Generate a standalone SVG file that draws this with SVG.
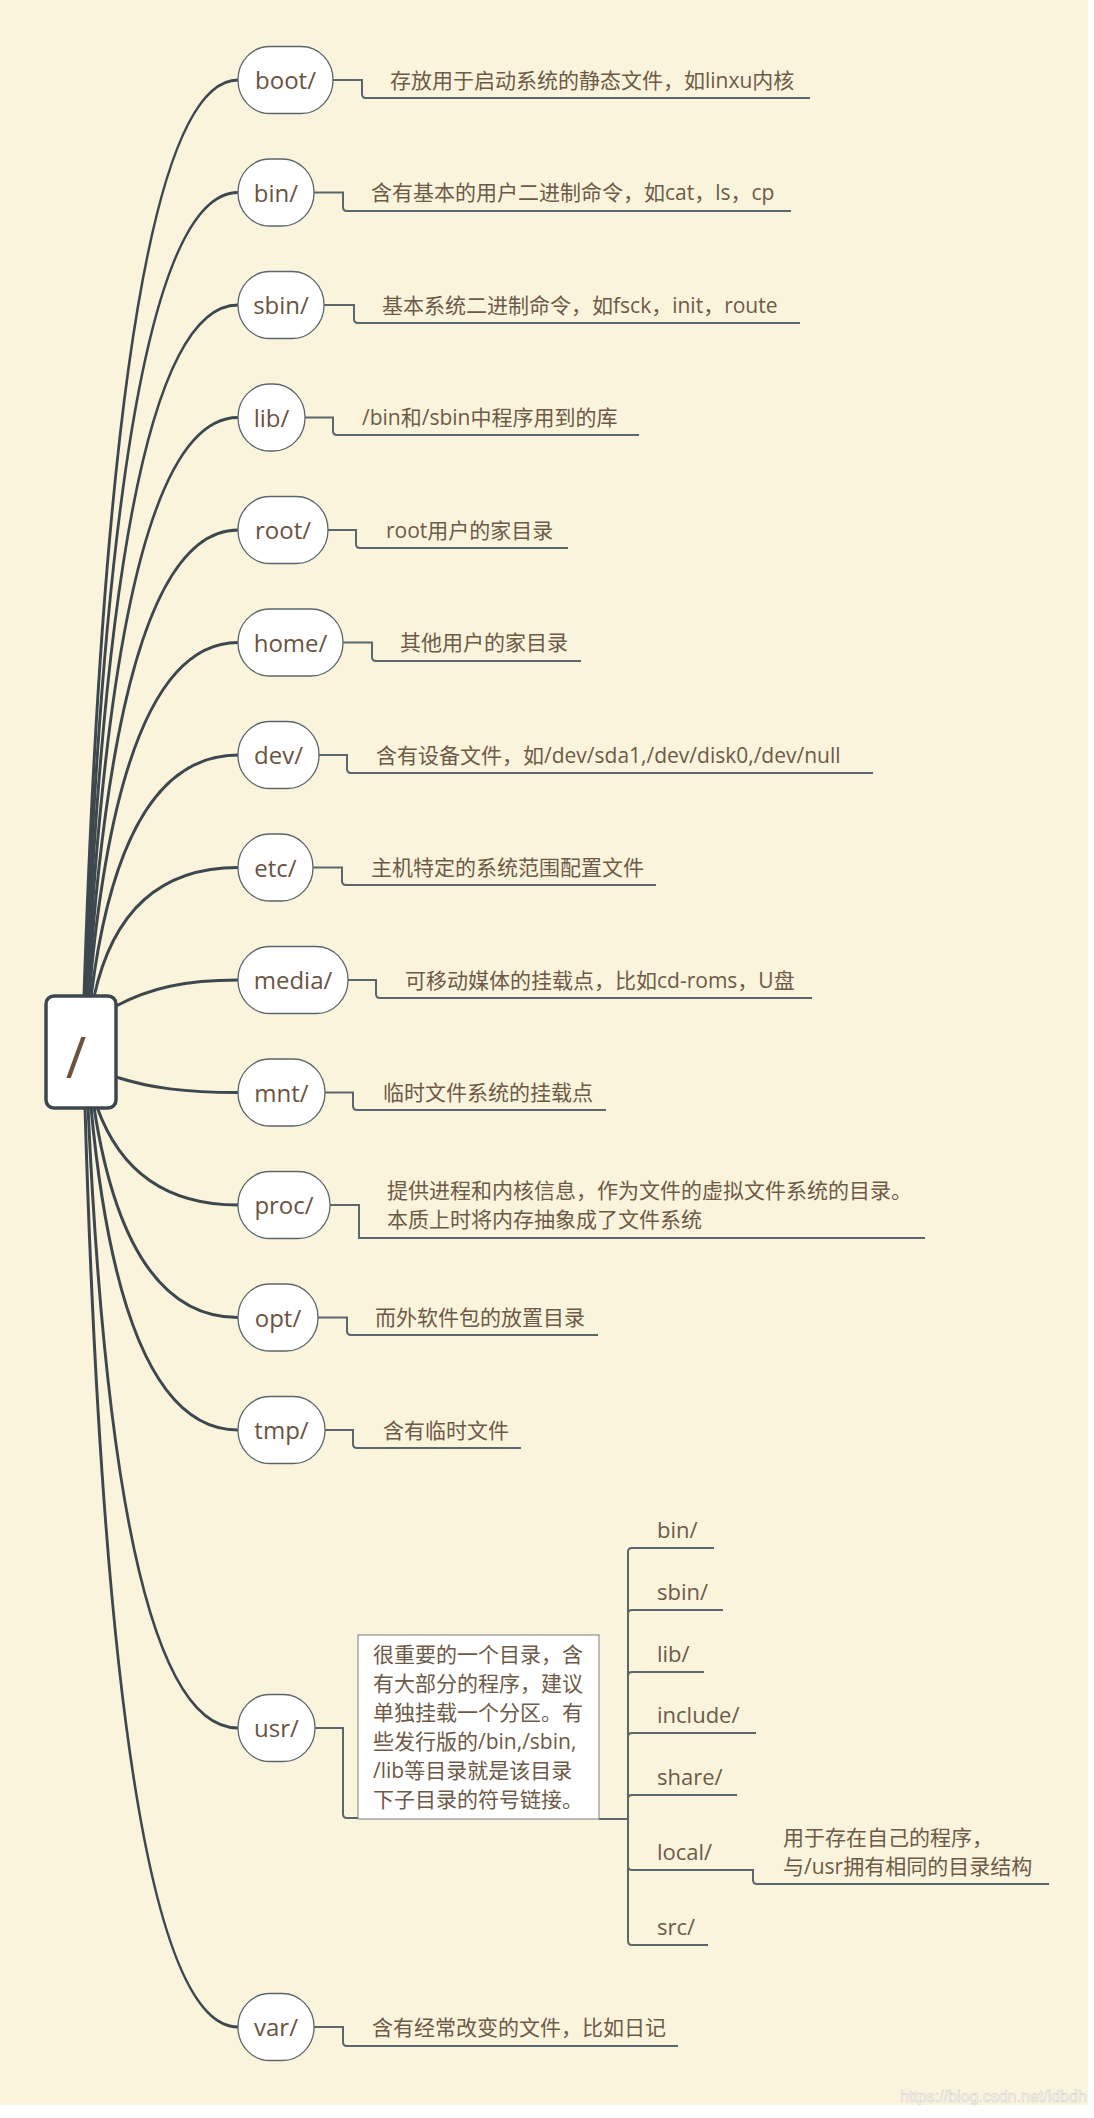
<svg xmlns="http://www.w3.org/2000/svg" width="1094" height="2118" viewBox="0 0 1094 2118">
<style>
.bg{fill:#fbf4dd}
.node rect{fill:#ffffff;stroke:#5b656b;stroke-width:1.3}
.root rect{fill:#ffffff;stroke:#3d474e;stroke-width:3.5}
.nt{font-family:"Open Sans","Noto Sans CJK SC",sans-serif;font-size:24px;fill:#6a533f;text-anchor:middle}
.lt{font-family:"Open Sans","Noto Sans CJK SC",sans-serif;font-size:21px;fill:#6d5a47}
.st{font-family:"Open Sans","Noto Sans CJK SC",sans-serif;font-size:22px;fill:#6d5a47}
.curve{fill:none;stroke:#3d474e;stroke-width:3}
.lab{fill:none;stroke:#5a666c;stroke-width:2}
.note{fill:#ffffff;stroke:#7a7e80;stroke-width:1}
.wm{font-family:"Liberation Sans",Arial,sans-serif;font-size:16px;fill:#ffffff;stroke:#d6d2c8;stroke-width:0.6}
</style>
<rect x="0" y="0" width="1094" height="2118" fill="#ffffff"/>
<rect class="bg" x="0" y="0" width="1088" height="2105"/>

<g id="connectors">
  <path class="curve" d="M84,997 Q114,80 238,80"/>
  <path class="curve" d="M85,997 Q115,192.5 238,192.5"/>
  <path class="curve" d="M86,997 Q116,305 238,305"/>
  <path class="curve" d="M87,997 Q117,417.5 238,417.5"/>
  <path class="curve" d="M88,997 Q118,530 238,530"/>
  <path class="curve" d="M89,997 Q119,642.5 238,642.5"/>
  <path class="curve" d="M91,997 Q121,755 238,755"/>
  <path class="curve" d="M94,997 Q122,867.5 238,867.5"/>
  <path class="curve" d="M116,1006 C150,988 185,980 238,980"/>
  <path class="curve" d="M116,1077 C150,1088 185,1092.5 238,1092.5"/>
  <path class="curve" d="M97,1107 Q132,1205 238,1205"/>
  <path class="curve" d="M94,1107 Q126,1317.5 238,1317.5"/>
  <path class="curve" d="M91,1107 Q121,1430 238,1430"/>
  <path class="curve" d="M88,1107 Q116,1728 238,1728"/>
  <path class="curve" d="M85,1107 Q112,2027 238,2027"/>

  <path class="lab" d="M333,80 H362 V94 Q362,98 366,98 H810"/>
  <path class="lab" d="M314,192.5 H343 V207 Q343,211 347,211 H791"/>
  <path class="lab" d="M324,305 H354 V319 Q354,323 358,323 H800"/>
  <path class="lab" d="M305,417.5 H333 V431 Q333,435 337,435 H639"/>
  <path class="lab" d="M328,530 H356 V544 Q356,548 360,548 H568"/>
  <path class="lab" d="M343,642.5 H372 V657 Q372,661 376,661 H581"/>
  <path class="lab" d="M319,755 H347 V769 Q347,773 351,773 H873"/>
  <path class="lab" d="M313,867.5 H342 V881 Q342,885 346,885 H656"/>
  <path class="lab" d="M348,980 H376 V994 Q376,998 380,998 H812"/>
  <path class="lab" d="M325,1092.5 H353 V1106 Q353,1110 357,1110 H606"/>
  <path class="lab" d="M330,1205 H359 V1238 H925"/>
  <path class="lab" d="M318,1317.5 H347 V1331 Q347,1335 351,1335 H598"/>
  <path class="lab" d="M325,1430 H353 V1444 Q353,1448 357,1448 H521"/>
  <path class="lab" d="M315,1728 H343 V1814 Q343,1818 347,1818 H358"/>
  <path class="lab" d="M314,2027 H343 V2042 Q343,2046 347,2046 H678"/>

  <path class="lab" d="M599,1819 H628"/>
  <path class="lab" d="M628,1819 V1552 Q628,1548 632,1548 H714"/>
  <path class="lab" d="M628,1819 V1614 Q628,1610 632,1610 H723"/>
  <path class="lab" d="M628,1819 V1676 Q628,1672 632,1672 H704"/>
  <path class="lab" d="M628,1819 V1737 Q628,1733 632,1733 H756"/>
  <path class="lab" d="M628,1819 V1799 Q628,1795 632,1795 H737"/>
  <path class="lab" d="M628,1819 V1866 Q628,1870 632,1870 H753 V1880 Q753,1884 757,1884 H1049"/>
  <path class="lab" d="M628,1819 V1941 Q628,1945 632,1945 H708"/>
</g>

<g id="root" class="root">
  <rect x="46" y="996" width="70" height="112" rx="8" ry="8"/>
  <text x="76" y="1078" style="font-family:'Open Sans',sans-serif;font-size:56px;fill:#6a533f;text-anchor:middle">/</text>
</g>

<g id="n-boot" class="node"><rect x="238" y="46.5" width="95" height="67" rx="32" ry="33"/><text class="nt" x="285.5" y="89">boot/</text></g>
<g id="l-boot"><text class="lt" x="390" y="87.5">存放用于启动系统的静态文件，如linxu内核</text></g>

<g id="n-bin" class="node"><rect x="238" y="159" width="76" height="67" rx="32" ry="33"/><text class="nt" x="276" y="201.5">bin/</text></g>
<g id="l-bin"><text class="lt" x="371" y="200">含有基本的用户二进制命令，如cat，ls，cp</text></g>

<g id="n-sbin" class="node"><rect x="238" y="271.5" width="86" height="67" rx="32" ry="33"/><text class="nt" x="281" y="314">sbin/</text></g>
<g id="l-sbin"><text class="lt" x="382" y="312.5">基本系统二进制命令，如fsck，init，route</text></g>

<g id="n-lib" class="node"><rect x="238" y="384" width="67" height="67" rx="32" ry="33"/><text class="nt" x="271.5" y="426.5">lib/</text></g>
<g id="l-lib"><text class="lt" x="362" y="425">/bin和/sbin中程序用到的库</text></g>

<g id="n-root" class="node"><rect x="238" y="496.5" width="90" height="67" rx="32" ry="33"/><text class="nt" x="283" y="539">root/</text></g>
<g id="l-root"><text class="lt" x="386" y="537.5">root用户的家目录</text></g>

<g id="n-home" class="node"><rect x="238" y="609" width="105" height="67" rx="32" ry="33"/><text class="nt" x="290.5" y="651.5">home/</text></g>
<g id="l-home"><text class="lt" x="400" y="650">其他用户的家目录</text></g>

<g id="n-dev" class="node"><rect x="238" y="721.5" width="81" height="67" rx="32" ry="33"/><text class="nt" x="278.5" y="764">dev/</text></g>
<g id="l-dev"><text class="lt" x="376" y="762.5">含有设备文件，如/dev/sda1,/dev/disk0,/dev/null</text></g>

<g id="n-etc" class="node"><rect x="238" y="834" width="75" height="67" rx="32" ry="33"/><text class="nt" x="275.5" y="876.5">etc/</text></g>
<g id="l-etc"><text class="lt" x="371" y="875">主机特定的系统范围配置文件</text></g>

<g id="n-media" class="node"><rect x="238" y="946.5" width="110" height="67" rx="32" ry="33"/><text class="nt" x="293" y="989">media/</text></g>
<g id="l-media"><text class="lt" x="405" y="987.5">可移动媒体的挂载点，比如cd-roms，U盘</text></g>

<g id="n-mnt" class="node"><rect x="238" y="1059" width="87" height="67" rx="32" ry="33"/><text class="nt" x="281.5" y="1101.5">mnt/</text></g>
<g id="l-mnt"><text class="lt" x="383" y="1100">临时文件系统的挂载点</text></g>

<g id="n-proc" class="node"><rect x="238" y="1171.5" width="92" height="67" rx="32" ry="33"/><text class="nt" x="284" y="1214">proc/</text></g>
<g id="l-proc"><text class="lt" x="387" y="1197.5">提供进程和内核信息，作为文件的虚拟文件系统的目录。</text><text class="lt" x="387" y="1226.5">本质上时将内存抽象成了文件系统</text></g>

<g id="n-opt" class="node"><rect x="238" y="1284" width="80" height="67" rx="32" ry="33"/><text class="nt" x="278" y="1326.5">opt/</text></g>
<g id="l-opt"><text class="lt" x="375" y="1325">而外软件包的放置目录</text></g>

<g id="n-tmp" class="node"><rect x="238" y="1396.5" width="87" height="67" rx="32" ry="33"/><text class="nt" x="281.5" y="1439">tmp/</text></g>
<g id="l-tmp"><text class="lt" x="383" y="1437.5">含有临时文件</text></g>

<g id="n-usr" class="node"><rect x="238" y="1694.5" width="77" height="67" rx="32" ry="33"/><text class="nt" x="276.5" y="1737">usr/</text></g>
<g id="usr-note">
  <rect class="note" x="358" y="1635" width="241" height="184"/>
  <text class="lt" x="373" y="1662">很重要的一个目录，含</text>
  <text class="lt" x="373" y="1691">有大部分的程序，建议</text>
  <text class="lt" x="373" y="1720">单独挂载一个分区。有</text>
  <text class="lt" x="373" y="1749">些发行版的/bin,/sbin,</text>
  <text class="lt" x="373" y="1778">/lib等目录就是该目录</text>
  <text class="lt" x="373" y="1807">下子目录的符号链接。</text>
</g>
<g id="u-bin"><text class="st" x="657" y="1538">bin/</text></g>
<g id="u-sbin"><text class="st" x="657" y="1600">sbin/</text></g>
<g id="u-lib"><text class="st" x="657" y="1662">lib/</text></g>
<g id="u-include"><text class="st" x="657" y="1723">include/</text></g>
<g id="u-share"><text class="st" x="657" y="1785">share/</text></g>
<g id="u-local"><text class="st" x="657" y="1860">local/</text></g>
<g id="u-local-note"><text class="lt" x="783" y="1845">用于存在自己的程序，</text><text class="lt" x="783" y="1874">与/usr拥有相同的目录结构</text></g>
<g id="u-src"><text class="st" x="657" y="1935">src/</text></g>

<g id="n-var" class="node"><rect x="238" y="1993.5" width="76" height="67" rx="32" ry="33"/><text class="nt" x="276" y="2036">var/</text></g>
<g id="l-var"><text class="lt" x="372" y="2034.5">含有经常改变的文件，比如日记</text></g>

<text class="wm" x="900" y="2102">https://blog.csdn.net/idbdh</text>
</svg>
